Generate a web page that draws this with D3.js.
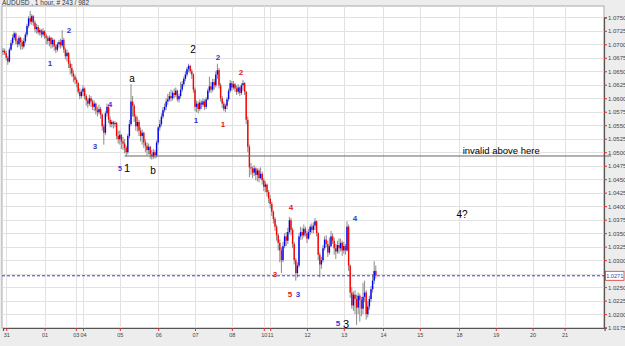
<!DOCTYPE html>
<html>
<head>
<meta charset="utf-8">
<script src="https://cdn.jsdelivr.net/npm/d3@7"></script>
<style>
  html, body { margin: 0; padding: 0; background: #ededed; }
  svg { display: block; font-family: "Liberation Sans", Arial, sans-serif; }
</style>
</head>
<body>
<svg id="chart"></svg>
<script>
'use strict';

const WIDTH = 625;
const HEIGHT = 346;
const PLOT = { left: 2, top: 6, right: 604, bottom: 328 };

// prices are in pips above 1.0000 (712 -> 1.0712), one entry per hourly bar
const closes = [
  688,684,675,668,690,702,712,720,706,700,
  712,704,696,706,718,734,748,742,752,740,
  728,732,722,726,718,724,716,712,706,712,
  700,708,696,690,700,704,698,708,690,678,
  684,664,656,646,640,634,628,612,604,612,
  618,604,596,590,600,594,584,590,578,574,
  580,570,548,536,572,584,560,552,556,552,
  554,530,524,532,520,516,508,500,530,552,
  594,586,566,548,556,540,530,536,518,512,
  504,510,496,492,500,494,518,546,552,566,
  578,584,594,598,604,600,610,606,614,598,
  604,616,626,636,644,654,660,650,644,616,
  584,590,580,592,588,594,584,598,614,622,
  616,630,624,644,652,624,600,590,580,586,
  598,614,628,620,626,618,612,620,610,624,
  628,612,560,510,472,470,462,470,458,466,
  452,460,448,436,440,426,414,404,390,376,
  362,346,332,318,300,326,344,336,352,374,
  356,330,300,276,290,344,352,346,358,350,
  340,352,362,356,364,372,350,310,292,300,
  322,338,330,314,326,344,336,322,316,328,
  322,332,318,326,318,362,290,240,216,236,
  228,212,234,226,210,232,240,200,214,228,
  246,262,280,271
];
const highs = [
  693,692,688,678,694,708,718,724,722,710,
  716,714,708,712,722,738,752,762,756,754,
  744,738,736,730,728,730,726,720,716,716,
  714,712,710,700,704,708,710,726,712,694,
  690,686,670,664,652,644,638,630,618,616,
  624,620,608,600,606,604,598,596,592,584,
  588,584,572,552,576,590,586,566,560,558,
  558,556,540,540,534,528,524,512,534,560,
  626,604,590,570,566,560,546,542,538,524,
  518,516,512,504,506,504,522,548,560,572,
  584,590,600,608,612,616,614,618,620,616,
  608,630,632,640,650,658,664,662,654,646,
  620,596,594,598,596,600,598,602,618,640,
  630,636,636,650,664,656,628,604,594,590,
  602,618,634,632,632,628,624,626,622,628,
  634,630,614,566,514,480,474,476,472,470,
  470,472,464,452,446,442,430,420,408,392,
  380,366,350,338,324,334,350,352,360,380,
  378,360,334,304,296,350,362,360,366,362,
  354,358,366,368,370,378,374,352,314,306,
  328,344,346,336,342,354,350,342,330,336,
  340,340,336,334,330,372,366,292,250,242,
  244,236,240,238,232,258,262,244,224,234,
  252,274,298,290
];
const lows = [
  680,680,670,662,666,688,698,708,700,694,
  696,690,690,692,702,714,730,738,736,734,
  722,720,718,716,712,714,710,700,700,696,
  692,694,688,684,686,694,692,694,684,672,
  668,656,644,640,630,626,620,608,598,600,
  604,598,586,582,586,584,578,576,570,566,
  570,562,540,514,532,566,554,546,546,544,
  546,524,516,514,506,504,498,492,496,526,
  548,566,556,540,538,530,520,514,508,500,
  494,496,488,486,488,488,490,514,540,548,
  562,574,578,588,594,594,596,600,602,594,
  592,600,612,622,632,640,648,646,636,610,
  576,574,572,576,580,584,578,580,596,610,
  610,612,616,620,636,618,594,582,576,574,
  580,594,610,614,616,612,606,608,604,606,
  614,606,552,500,454,458,452,456,448,446,
  444,450,440,428,426,418,406,396,382,368,
  354,336,318,296,276,296,322,326,330,348,
  346,322,292,262,268,286,338,338,342,344,
  332,338,346,350,350,356,344,300,268,284,
  296,318,324,306,310,324,330,310,302,312,
  312,316,308,312,310,316,280,230,210,206,
  200,180,200,186,196,200,222,190,194,208,
  222,240,256,266
];
const firstOpen = 688;

const priceTicks = [750,725,700,675,650,625,600,575,550,525,500,475,450,425,400,375,350,325,300,275,250,225,200,175];
const dayLabels = ["31","01","03","04","05","06","07","08","10","11","12","13","14","15","18","19","20","21"];
const dayBars = [2,26,45.5,50,73,97,120,143,163,167,190,213,237.5,260.5,285,308,331,351];

const currentPrice = 271;
const invalidLevel = 493;
const invalidFrom = 76;

// wave labels: [text, bar, price, colour, size]
const waveLabels = [
  ["2", 41.3, 726, "#3535d0", 8],
  ["1", 29.4, 665, "#3535d0", 8],
  ["a", 80.6, 636, "#000", 10],
  ["4", 66.9, 589, "#3535d0", 8],
  ["3", 57.5, 511, "#3535d0", 8],
  ["5", 73.1, 470, "#3535d0", 7],
  ["1", 77.6, 471, "#000", 11],
  ["b", 93.8, 467, "#000", 10],
  ["2", 118.8, 691, "#000", 10],
  ["2", 134.4, 675, "#3535d0", 8],
  ["1", 120.6, 558, "#3535d0", 8],
  ["2", 148.8, 647, "#e02020", 8],
  ["1", 137.5, 552, "#e02020", 8],
  ["4", 180, 398, "#e02020", 8],
  ["3", 170, 274, "#e02020", 8],
  ["5", 179.4, 237, "#e02020", 8],
  ["3", 184.4, 237, "#3535d0", 8],
  ["4", 220, 378, "#3535d0", 8],
  ["5", 209.4, 182, "#3535d0", 8],
  ["3", 214.4, 182, "#000", 11],
  ["4?", 286.9, 384, "#000", 10]
];

const fmt = v => (1 + v / 10000).toFixed(4);

const svg = d3.select("svg#chart")
              .attr("width", WIDTH)
              .attr("height", HEIGHT);

const x = d3.scaleLinear().domain([0, 376]).range([3, 604.6]);
const y = d3.scaleLinear().domain([175, 750]).range([327.6, 17.3]);

svg.append("rect")
   .attr("x", PLOT.left).attr("y", PLOT.top)
   .attr("width", PLOT.right - PLOT.left).attr("height", PLOT.bottom - PLOT.top)
   .attr("fill", "#fff").attr("stroke", "#aaa").attr("stroke-width", 1);

svg.append("text")
   .attr("x", 2).attr("y", 5)
   .attr("font-size", 6.5).attr("fill", "#333")
   .text("AUDUSD , 1 hour, # 243 / 982");

svg.append("clipPath").attr("id", "plotClip")
   .append("rect")
   .attr("x", PLOT.left).attr("y", PLOT.top)
   .attr("width", PLOT.right - PLOT.left).attr("height", PLOT.bottom - PLOT.top);

const grid = svg.append("g").attr("stroke", "#e2e2e2").attr("stroke-width", 1);
grid.selectAll("line.h")
    .data(priceTicks)
    .enter().append("line")
    .attr("class", "h")
    .attr("x1", PLOT.left).attr("x2", PLOT.right)
    .attr("y1", d => Math.round(y(d)) + 0.5).attr("y2", d => Math.round(y(d)) + 0.5);
grid.selectAll("line.v")
    .data(dayBars)
    .enter().append("line")
    .attr("class", "v")
    .attr("y1", PLOT.top).attr("y2", PLOT.bottom)
    .attr("x1", d => Math.round(x(d)) + 0.5).attr("x2", d => Math.round(x(d)) + 0.5);

// candles
const bars = closes.map((c, i) => ({
    i: i,
    open: i === 0 ? firstOpen : closes[i - 1],
    close: c,
    high: highs[i],
    low: lows[i]
}));

const candles = svg.append("g").attr("clip-path", "url(#plotClip)");
candles.selectAll("line.wick")
       .data(bars)
       .enter().append("line")
       .attr("class", "wick")
       .attr("x1", d => x(d.i)).attr("x2", d => x(d.i))
       .attr("y1", d => y(Math.max(d.high, d.open, d.close)))
       .attr("y2", d => y(Math.min(d.low, d.open, d.close)))
       .attr("stroke", "#8a8a8a").attr("stroke-width", 1);
candles.selectAll("rect.body")
       .data(bars)
       .enter().append("rect")
       .attr("class", "body")
       .attr("x", d => x(d.i) - 0.7)
       .attr("width", 1.4)
       .attr("y", d => y(Math.max(d.open, d.close)))
       .attr("height", d => Math.max(1, Math.abs(y(d.open) - y(d.close))))
       .attr("fill", d => d.close >= d.open ? "#0000ff" : "#ff0000");

// invalidation level
svg.append("line")
   .attr("x1", x(invalidFrom)).attr("x2", 611)
   .attr("y1", y(invalidLevel)).attr("y2", y(invalidLevel))
   .attr("stroke", "#666").attr("stroke-width", 1);
svg.append("text")
   .attr("x", x(287.3)).attr("y", y(invalidLevel) - 2)
   .attr("font-size", 9.5).attr("fill", "#000")
   .text("invalid above here");

// current price
svg.append("line")
   .attr("x1", PLOT.left).attr("x2", PLOT.right)
   .attr("y1", y(currentPrice)).attr("y2", y(currentPrice))
   .attr("stroke", "#3a3ae0").attr("stroke-width", 1)
   .attr("stroke-dasharray", "3,2");

// wave counts
svg.append("g").selectAll("text")
   .data(waveLabels)
   .enter().append("text")
   .attr("x", d => x(d[1])).attr("y", d => y(d[2]))
   .attr("text-anchor", "middle")
   .attr("dominant-baseline", "central")
   .attr("font-size", d => d[4])
   .attr("font-weight", d => d[3] === "#000" ? "normal" : "bold")
   .attr("fill", d => d[3])
   .text(d => d[0]);

// axes; the tick label nearest the current price is hidden behind its box
const yAxis = d3.axisRight(y).tickValues(priceTicks).tickSize(3)
                .tickFormat(d => Math.abs(d - currentPrice) < 10 ? "" : fmt(d));
const gy = svg.append("g")
              .attr("transform", "translate(" + PLOT.right + ",0)")
              .call(yAxis);
const xAxis = d3.axisBottom(x).tickValues(dayBars).tickSize(3)
                .tickFormat((d, i) => dayLabels[i]);
const gx = svg.append("g")
              .attr("transform", "translate(0," + PLOT.bottom + ")")
              .call(xAxis);

[gy, gx].forEach(g => {
    g.select(".domain").attr("stroke", "#555").attr("stroke-width", 1.2);
    g.selectAll(".tick line").attr("stroke", "#e03030");
    g.selectAll(".tick text").attr("fill", "#444").attr("font-size", 6)
     .attr("font-family", "Liberation Sans, Arial, sans-serif");
});
gy.selectAll(".tick text").attr("x", 4);
gx.selectAll(".tick text").attr("y", 5).attr("font-size", 5.5);

// current price box
const boxY = y(currentPrice);
svg.append("rect")
   .attr("x", 605.5).attr("y", boxY - 4.5)
   .attr("width", 18.5).attr("height", 9)
   .attr("fill", "#fff").attr("stroke", "#e03030").attr("stroke-width", 0.8);
svg.append("text")
   .attr("x", 614.75).attr("y", boxY)
   .attr("text-anchor", "middle")
   .attr("dominant-baseline", "central")
   .attr("font-size", 5.6).attr("fill", "#3a3ab0")
   .text(fmt(currentPrice));
</script>
</body>
</html>
